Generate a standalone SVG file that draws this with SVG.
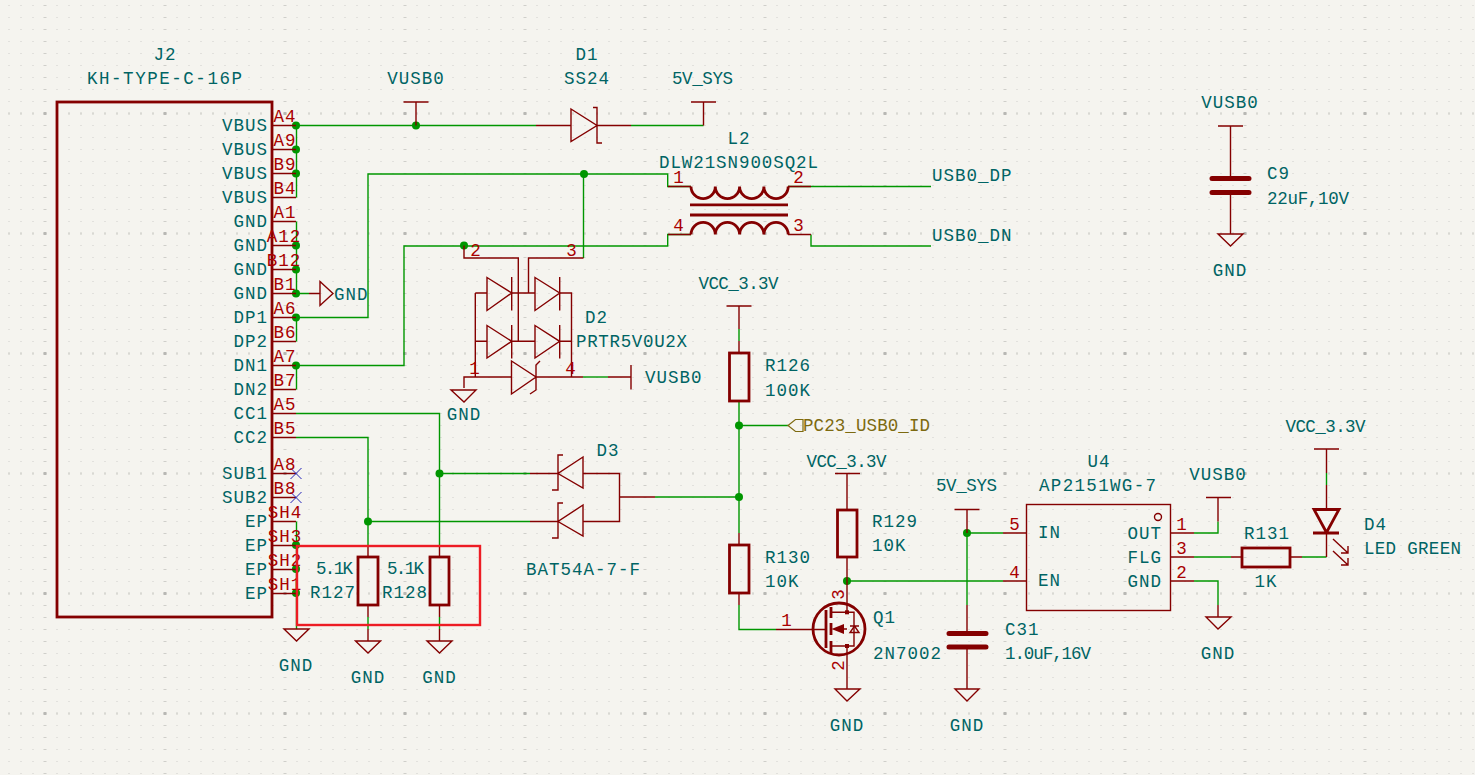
<svg xmlns="http://www.w3.org/2000/svg" width="1475" height="775" viewBox="0 0 1475 775">
<style>
text{font-family:"Liberation Mono","DejaVu Sans Mono",monospace;font-size:17.5px;letter-spacing:1px;fill:#006464}
.n{fill:#a90000}
.m{text-anchor:middle}
.e{text-anchor:end}
.l{fill:#7d6a10}
path,rect,circle{fill:none}
.w{stroke:#009600;stroke-width:1.4}
.r{stroke:#840000;stroke-width:1.4}
.b{stroke:#840000;stroke-width:2.8}
.c{stroke:#840000;stroke-width:5;stroke-linecap:round}
.x{stroke:#2424b8;stroke-width:1}
circle.j{fill:#009600}
.f{fill:#840000}
</style>
<defs>
<pattern id="g1" width="12" height="12" patternUnits="userSpaceOnUse"><rect x="8.5" y="5" width="1" height="1" style="fill:#cfcfca"/></pattern>
<pattern id="g2" width="120" height="12" patternUnits="userSpaceOnUse"><rect x="43.5" y="5" width="3" height="1" style="fill:#cfcfca"/></pattern>
<pattern id="g3" width="12" height="120" patternUnits="userSpaceOnUse"><rect x="8.5" y="112" width="1" height="3" style="fill:#cfcfca"/></pattern>
<pattern id="g4" width="120" height="120" patternUnits="userSpaceOnUse"><rect x="43.5" y="112" width="3" height="3" style="fill:#b8b8b4"/></pattern>
</defs>
<rect width="1475" height="775" style="fill:#f5f4ef"/>
<rect width="1475" height="775" style="fill:url(#g1)"/>
<rect width="1475" height="775" style="fill:url(#g2)"/>
<rect width="1475" height="775" style="fill:url(#g3)"/>
<rect width="1475" height="775" style="fill:url(#g4)"/>

<g id="connectors">
<path class="w" d="M296.5 125.5H536M631 125.5H703.5"/>
<path class="w" d="M296.5 125.5V197.5M296.5 221.5V293.5H309M296.5 317.5V341.5M296.5 365.5V389.5M296.5 521.5V629"/>
<path class="w" d="M296.5 317.5H368V174H667.7V186.5H691M788 186.5H811H931"/>
<path class="w" d="M296.5 365.5H404V246H667.7V234.5H691M811 234.5V246H931"/>
<path class="w" d="M583.5 174V258"/>
<path class="w" d="M296 413.5H439.5V546M296 437.5H368V546"/>
<path class="w" d="M439.5 473.5H530M368 521.5H530"/>
<path class="w" d="M368 617V629M439.5 617V629"/>
<path class="w" d="M583 377H608"/>
<path class="w" d="M655 497H739M739 401V533M739 425.5H788M739 329V341M739 605V629.5H776"/>
<path class="w" d="M847 581H1003M967 533H1003M967 533V605"/>
<path class="w" d="M1194 533H1218V521.5M1194 557H1231M1194 581H1218V605"/>
<path class="w" d="M1302 557H1326.5M1326.5 473V485"/>
<circle class="j" cx="416" cy="125.5" r="4"/>
<circle class="j" cx="296" cy="125.5" r="4"/><circle class="j" cx="296" cy="149.5" r="4"/><circle class="j" cx="296" cy="173.5" r="4"/>
<circle class="j" cx="296" cy="245.5" r="4"/><circle class="j" cx="296" cy="269.5" r="4"/><circle class="j" cx="296" cy="293.5" r="4"/>
<circle class="j" cx="296" cy="317.5" r="4"/><circle class="j" cx="296" cy="365.5" r="4"/>
<circle class="j" cx="296" cy="545" r="4"/><circle class="j" cx="296" cy="569" r="4"/><circle class="j" cx="296" cy="593" r="4"/>
<circle class="j" cx="584" cy="174" r="4"/><circle class="j" cx="464" cy="245.5" r="4"/>
<circle class="j" cx="439.5" cy="473.5" r="4"/><circle class="j" cx="368" cy="521.5" r="4"/>
<circle class="j" cx="739" cy="425.5" r="4"/><circle class="j" cx="739" cy="497" r="4"/>
<circle class="j" cx="847" cy="581" r="4"/><circle class="j" cx="967" cy="533" r="4"/>
</g>

<g id="J2">
<rect class="b" x="57" y="102" width="215" height="515"/>
<path class="r" d="M272 125.5H296M272 149.5H296M272 173.5H296M272 197.5H296M272 221.5H296M272 245.5H296M272 269.5H296M272 293.5H296M272 317.5H296M272 341.5H296M272 365.5H296M272 389.5H296M272 413.5H296M272 437.5H296M272 473.5H296M272 497.5H296M272 521.5H296M272 545.5H296M272 569.5H296M272 593.5H296"/>
<path class="x" d="M290.5 468L301.5 479M301.5 468L290.5 479M290.5 492L301.5 503M301.5 492L290.5 503"/>
<text class="m" x="165" y="60">J2</text>
<text class="m" x="165" y="84" textLength="156">KH-TYPE-C-16P</text>
<text class="e" x="268" y="131">VBUS</text><text class="e" x="268" y="155">VBUS</text><text class="e" x="268" y="179">VBUS</text><text class="e" x="268" y="203">VBUS</text>
<text class="e" x="268" y="227">GND</text><text class="e" x="268" y="251">GND</text><text class="e" x="268" y="275">GND</text><text class="e" x="268" y="299">GND</text>
<text class="e" x="268" y="323">DP1</text><text class="e" x="268" y="347">DP2</text><text class="e" x="268" y="371">DN1</text><text class="e" x="268" y="395">DN2</text>
<text class="e" x="268" y="419">CC1</text><text class="e" x="268" y="443">CC2</text><text class="e" x="268" y="479">SUB1</text><text class="e" x="268" y="503">SUB2</text>
<text class="e" x="268" y="527">EP</text><text class="e" x="268" y="551">EP</text><text class="e" x="268" y="575">EP</text><text class="e" x="268" y="599">EP</text>
<text class="n m" x="285" y="122">A4</text><text class="n m" x="285" y="146">A9</text><text class="n m" x="285" y="170">B9</text><text class="n m" x="285" y="194">B4</text>
<text class="n m" x="285" y="218">A1</text><text class="n m" x="284" y="242">A12</text><text class="n m" x="284" y="266">B12</text><text class="n m" x="285" y="290">B1</text>
<text class="n m" x="285" y="314">A6</text><text class="n m" x="285" y="338">B6</text><text class="n m" x="285" y="362">A7</text><text class="n m" x="285" y="386">B7</text>
<text class="n m" x="285" y="410">A5</text><text class="n m" x="285" y="434">B5</text><text class="n m" x="285" y="470">A8</text><text class="n m" x="285" y="494">B8</text>
<text class="n m" x="285" y="518">SH4</text><text class="n m" x="285" y="542">SH3</text><text class="n m" x="285" y="566">SH2</text><text class="n m" x="285" y="590">SH1</text>
</g>

<g id="VUSB0-top"><path class="r" d="M416 102V125.5M403.5 102H428.5"/><text class="m" x="416" y="84">VUSB0</text></g>
<g id="D1">
<path class="r" d="M536 125.5H571M597 125.5H631M571 109L597 125.5L571 141.5ZM593 107.5H597V143H602"/>
<text class="m" x="587" y="60">D1</text><text class="m" x="587" y="84">SS24</text>
</g>
<g id="SYS-top"><path class="r" d="M703.5 102V125.5M691 102H716"/><text class="m" x="703" y="84" textLength="62">5V_SYS</text></g>
<g id="GND-J2"><path class="r" d="M309 293.5H320M320 281.5L333 293.5L320 305.5Z"/><text x="334" y="300">GND</text></g>
<g id="GND-J2b"><path class="r" d="M284 629H309L296.5 641Z"/><text class="m" x="296" y="671">GND</text></g>

<g id="L2">
<path class="r" d="M668 186.5H691M788 186.5H811M668 234.5H691M788 234.5H811"/>
<path class="b" d="M691 186.5a12 12 0 0 0 24.3 0a12 12 0 0 0 24.3 0a12 12 0 0 0 24.3 0a12 12 0 0 0 24.3 0M691 234.5a12 12 0 0 1 24.3 0a12 12 0 0 1 24.3 0a12 12 0 0 1 24.3 0a12 12 0 0 1 24.3 0M690 204.8H788M690 215H788"/>
<text class="m" x="739" y="144">L2</text><text class="m" x="739" y="168" textLength="160">DLW21SN900SQ2L</text>
<text class="n m" x="679" y="183">1</text><text class="n m" x="799" y="183">2</text><text class="n m" x="679" y="231">4</text><text class="n m" x="799" y="231">3</text>
</g>
<g id="USB-labels"><text x="932" y="181">USB0_DP</text><text x="932" y="241">USB0_DN</text></g>

<g id="D2">
<path class="r" d="M464 245.5V258H518.3V341.3M528.5 293V258H583.5"/>
<path class="r" d="M475.3 293V377M475.3 293H487M511.7 293H535M559.7 293H571.5V377M475.3 341.3H487M511.7 341.3H535M559.7 341.3H571.5"/>
<path class="r" d="M487 277.5L511.7 293L487 310.5ZM511.7 277V310.5M535 277.5L559.7 293L535 310.5ZM559.7 277V310.5M487 325.5L511.7 341.3L487 358ZM511.7 325V358.5M535 325.5L559.7 341.3L535 358ZM559.7 325V358.5"/>
<path class="r" d="M464 388V377H511.5M511.5 361L536 377L511.5 394ZM540 361L536 365V390L530 394M536 377H583M608 377H631M631 365V389.5M451 390H476L464 402Z"/>
<text class="m" x="464" y="420">GND</text>
<text class="n m" x="476" y="256">2</text><text class="n m" x="572" y="256">3</text><text class="n m" x="475" y="374">1</text><text class="n m" x="571" y="374">4</text>
<text x="585" y="323">D2</text><text x="576" y="347" textLength="112">PRTR5V0U2X</text><text x="645" y="383">VUSB0</text>
</g>

<g id="R127"><path class="r" d="M368 546V557M368 605V617M368 629V641M355.5 641H380.5L368 653Z"/><rect class="b" x="358" y="557" width="20" height="48"/><text x="316" y="574" textLength="38">5.1K</text><text x="310" y="598">R127</text><text class="m" x="368" y="683">GND</text></g>
<g id="R128"><path class="r" d="M439.5 546V557M439.5 605V617M439.5 629V641M427 641H452L439.5 653Z"/><rect class="b" x="430" y="557" width="19" height="48"/><text x="387" y="574" textLength="38">5.1K</text><text x="382" y="598">R128</text><text class="m" x="439.5" y="683">GND</text></g>
<rect id="highlight" x="297" y="546" width="183" height="79" style="stroke:#ed1c24;stroke-width:2.4"/>

<g id="D3">
<path class="r" d="M530 473.5H558M530 521.5H558M583 473.5H619.5V521.5H583M619.5 497H655"/>
<path class="r" d="M583 457L558 473.5L583 488ZM563 455H558V490H552M583 505L558 521.5L583 536ZM563 503H558V538H552"/>
<text class="m" x="608" y="456">D3</text><text x="526" y="575" textLength="115">BAT54A-7-F</text>
</g>

<g id="R126"><path class="r" d="M739 306V329M739 341V353M726.5 306H751.5"/><rect class="b" x="729.5" y="353" width="19.5" height="48"/><text class="m" x="739" y="289" textLength="81">VCC_3.3V</text><text x="765" y="371">R126</text><text x="765" y="396">100K</text></g>
<g id="PC23"><path style="stroke:#7d6a10;stroke-width:1.2" d="M788 425.5L795.5 419.5H803V431.5H795.5Z"/><text class="l" x="803" y="431" textLength="128">PC23_USB0_ID</text></g>
<g id="R130"><path class="r" d="M739 533V545M739 593V605M776 629.5H826"/><rect class="b" x="729.5" y="545" width="19.5" height="48"/><text x="765" y="563">R130</text><text x="765" y="587">10K</text></g>

<g id="R129"><path class="r" d="M847 473V510M847 557V581M835 473.5H860"/><rect class="b" x="837.5" y="510" width="19.5" height="47"/><text class="m" x="847" y="467" textLength="81">VCC_3.3V</text><text x="872" y="527">R129</text><text x="872" y="551">10K</text></g>

<g id="Q1">
<circle class="b" cx="839" cy="629" r="26"/>
<path class="b" d="M826 610V648M831 607V618M831 623V635M831 641V653"/>
<path class="r" d="M831 612.3H847M831 646H847M844 629H847M847 581V612.3M847 646V689M847 612.3H854V646H847M835 689H860L847 701Z"/>
<path class="f" d="M831.5 629L844 624V634Z"/>
<rect class="f" x="845" y="610.3" width="4" height="4"/><rect class="f" x="845" y="644" width="4" height="4"/>
<path class="r" d="M850 632.5H859L854.5 626ZM850 626H859"/>
<text class="n m" x="787" y="626">1</text>
<text class="n m" transform="rotate(-90 838 594)" x="838" y="600">3</text>
<text class="n m" transform="rotate(-90 838 665)" x="838" y="671">2</text>
<text x="873" y="623">Q1</text><text x="873" y="659">2N7002</text><text class="m" x="847" y="731">GND</text>
</g>

<g id="C31">
<path class="r" d="M967 509.5V533M967 605V633M967 647V689M954.5 509.5H979.5M955 689H979L967 701Z"/>
<path class="c" d="M949 633.5H986M949 647H986"/>
<text class="m" x="967" y="491" textLength="62">5V_SYS</text><text x="1005" y="635">C31</text><text x="1005" y="659" textLength="87">1.0uF,16V</text><text class="m" x="967" y="731">GND</text>
</g>

<g id="U4">
<rect class="r" x="1026.5" y="504.5" width="144" height="106"/>
<circle class="r" cx="1158" cy="517" r="3.5"/>
<path class="r" d="M1003 533H1026.5M1003 581H1026.5M1170.5 533H1194M1170.5 557H1194M1170.5 581H1194"/>
<text class="m" x="1099" y="467">U4</text><text class="m" x="1098" y="491" textLength="118">AP2151WG-7</text>
<text x="1038" y="538">IN</text><text x="1038" y="586">EN</text>
<text class="e" x="1162" y="539">OUT</text><text class="e" x="1162" y="563">FLG</text><text class="e" x="1162" y="587">GND</text>
<text class="n m" x="1015" y="530">5</text><text class="n m" x="1015" y="578">4</text><text class="n m" x="1182" y="530">1</text><text class="n m" x="1182" y="554">3</text><text class="n m" x="1182" y="578">2</text>
</g>
<g id="VUSB0-u4"><path class="r" d="M1218 497.5V521.5M1206 497.5H1231"/><text class="m" x="1218" y="480">VUSB0</text></g>
<g id="GND-u4"><path class="r" d="M1218 605V617M1206 617H1231L1218 629Z"/><text class="m" x="1218" y="659">GND</text></g>
<g id="R131"><path class="r" d="M1231 557H1242M1290 557H1302"/><rect class="b" x="1242" y="548" width="48" height="19"/><text class="m" x="1267" y="539">R131</text><text class="m" x="1266" y="587">1K</text></g>

<g id="D4">
<path class="r" d="M1326.5 449V473M1326.5 485V509.5M1326.5 533V557M1314 449H1339"/>
<path class="b" d="M1314 509.5H1339L1326.5 532.5ZM1313 533H1339"/>
<path class="r" d="M1333 539L1348 553M1348 546V553H1341M1333 551L1348 565M1348 558V565H1341"/>
<text class="m" x="1326" y="432" textLength="81">VCC_3.3V</text><text x="1364" y="530">D4</text><text x="1364" y="554" textLength="98">LED GREEN</text>
</g>

<g id="C9">
<path class="r" d="M1230.5 126V179M1230.5 192V234M1218 126H1243M1218 234H1243L1230.5 246Z"/>
<path class="c" d="M1212 178.5H1249M1212 192.5H1249"/>
<text class="m" x="1230" y="108">VUSB0</text><text x="1267" y="179">C9</text><text x="1267" y="204" textLength="83">22uF,10V</text><text class="m" x="1230" y="276">GND</text>
</g>
</svg>
